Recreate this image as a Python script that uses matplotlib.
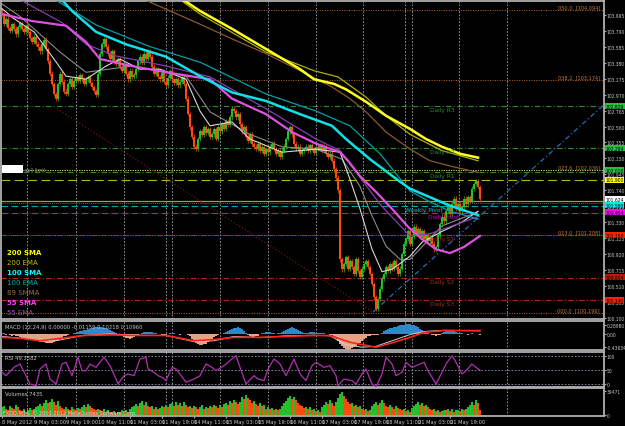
import matplotlib
matplotlib.use("Agg")
import matplotlib.pyplot as plt
from matplotlib.patches import Rectangle
from matplotlib.transforms import blended_transform_factory

plt.rcParams["font.family"] = ["DejaVu Sans"]

# ---- H1 closes, bar 0 = 8 May 2012 ----
closes = [
    104.01, 103.88, 103.95, 103.83, 103.79, 103.88, 103.82, 103.75, 103.84, 103.89,
    103.82, 103.78, 103.85, 103.78, 103.70, 103.65, 103.72, 103.63, 103.58, 103.53,
    103.62, 103.68, 103.56, 103.40, 103.24, 103.11, 102.98, 102.92, 103.11, 103.24,
    103.14, 103.01, 102.98, 103.11, 103.17, 103.07, 103.15, 103.20, 103.15, 103.22,
    103.17, 103.11, 103.17, 103.20, 103.12, 103.07, 103.02, 102.97, 103.24, 103.50,
    103.62, 103.69, 103.59, 103.50, 103.43, 103.53, 103.40, 103.37, 103.43, 103.33,
    103.28, 103.36, 103.24, 103.17, 103.28, 103.20, 103.22, 103.30, 103.40, 103.46,
    103.38, 103.50, 103.43, 103.53, 103.46, 103.33, 103.24, 103.30, 103.20, 103.17,
    103.25, 103.14, 103.09, 103.19, 103.27, 103.17, 103.12, 103.17, 103.09, 103.14,
    103.20, 103.11, 102.92, 102.72, 102.55, 102.43, 102.30, 102.27, 102.40, 102.50,
    102.45, 102.55, 102.48, 102.53, 102.43, 102.46, 102.53, 102.40, 102.55, 102.50,
    102.59, 102.53, 102.63, 102.58, 102.68, 102.79, 102.76, 102.68, 102.72, 102.59,
    102.50, 102.55, 102.43, 102.38, 102.46, 102.34, 102.30, 102.27, 102.34, 102.25,
    102.30, 102.21, 102.27, 102.23, 102.30, 102.34, 102.27, 102.21, 102.25, 102.17,
    102.25, 102.30, 102.40, 102.50, 102.55, 102.46, 102.34, 102.27, 102.30, 102.21,
    102.25, 102.27, 102.30, 102.25, 102.32, 102.27, 102.22, 102.30, 102.27, 102.32,
    102.25, 102.30, 102.21, 102.17, 102.21, 102.12, 102.01, 101.90, 101.74, 100.85,
    100.72, 100.79, 100.88, 100.73, 100.83, 100.75, 100.66, 100.85, 100.70, 100.62,
    100.73, 100.79, 100.83, 100.75, 100.66, 100.53, 100.36, 100.21, 100.34, 100.47,
    100.60, 100.66, 100.75, 100.70, 100.79, 100.73, 100.83, 100.75, 100.66, 100.73,
    100.92, 101.05, 101.11, 101.21, 101.05, 101.14, 101.27, 101.18, 101.24, 101.14,
    101.21, 101.11, 101.16, 101.08, 101.14, 101.05, 100.98, 101.01, 101.16, 101.30,
    101.40, 101.34, 101.47, 101.52, 101.43, 101.56, 101.63, 101.50, 101.56, 101.47,
    101.52, 101.63, 101.56, 101.65, 101.60, 101.76, 101.82, 101.86, 101.78, 101.63,
]

# volume per bar, thousands
volumes = [
    12, 15, 10, 8, 14, 11, 9, 16, 13, 7, 6, 9, 5, 8, 11, 7, 10,
    12, 15, 18, 14, 20, 24, 19, 22, 26, 21, 17, 23, 15,
    11, 9, 13, 10, 8, 12, 9, 7, 11, 10, 13, 16, 12, 18, 14, 11, 9,
    7, 10, 8, 6, 9, 5, 7, 5, 4, 6, 3, 5, 4, 7, 6, 8, 5,
    9, 12, 15, 18, 14, 20, 23, 17, 21, 15, 12, 14, 10, 13, 9, 11, 15, 12,
    16, 13, 18, 20, 15, 22, 17, 19, 14, 21, 16, 12,
    14, 11, 15, 13, 10, 12, 16, 9, 13, 11, 15, 12, 17, 14, 11, 16, 13, 18,
    20, 17, 23, 19, 25, 21, 18, 22, 30, 26, 33, 28, 24,
    20, 23, 18, 15, 19, 14, 16, 10, 12, 9, 11, 8, 10, 7, 9,
    15, 19, 23, 28, 32, 27, 30, 24, 20, 17, 14, 11, 13, 9, 12, 8, 10, 6, 8, 5,
    12, 16, 21, 18, 24, 19, 15, 22, 28, 35, 39, 31,
    26, 22, 18, 20, 15, 17, 12, 14, 9, 7, 10, 6, 8,
    14, 18, 22, 17, 20, 24, 19, 15, 12, 16, 13, 10, 14, 11, 9, 7, 9, 6, 8, 5,
    11, 15, 18, 22, 17, 20, 14, 16, 12, 10, 7, 9, 6, 8, 5,
    6, 8, 7, 10, 6, 9, 5, 7, 8, 6, 10, 7, 9, 13, 17, 21, 16, 25, 19, 8,
]

# MACD colored histogram per bar
macd_hist = [
    0.02, 0.03, -0.02, 0.01, -0.03, -0.05, -0.04, -0.06, -0.08, -0.10,
    -0.12, -0.14, -0.15, -0.17, -0.18, -0.20, -0.21, -0.22, -0.24, -0.25,
    -0.26, -0.27, -0.28, -0.30, -0.29, -0.28, -0.26, -0.24, -0.20, -0.16, -0.12,
    -0.08, -0.05, -0.03, -0.01, 0.01, 0.02,
    0.04, 0.06, 0.08, 0.10, 0.12, 0.13, 0.15, 0.16, 0.18, 0.19, 0.21, 0.22, 0.23, 0.22,
    0.20, 0.18, 0.15, 0.12, 0.09, 0.06, 0.03, 0.01,
    -0.03, -0.06, -0.09, -0.12, -0.14, -0.15, -0.13, -0.10, -0.06,
    -0.02, 0.01, 0.03, 0.05, 0.06, 0.07, 0.06, 0.05, 0.04, 0.02, 0.01, -0.01,
    -0.02, -0.03, -0.02, 0.01, 0.02, 0.03, 0.02, 0.01, -0.01, -0.02, -0.01, 0.01, 0.00, -0.03,
    -0.08, -0.15, -0.22, -0.28, -0.32, -0.35, -0.36, -0.34, -0.31, -0.27, -0.22, -0.16, -0.11, -0.06,
    -0.03, -0.01, 0.01, 0.03,
    0.06, 0.09, 0.12, 0.15, 0.18, 0.20, 0.21, 0.19, 0.15, 0.10,
    0.04, -0.02, -0.06, -0.09, -0.10, -0.08, -0.05,
    0.00, 0.02, 0.04, 0.05, 0.06, 0.05, 0.03, 0.02, 0.01, 0.02, 0.04, 0.07,
    0.10, 0.14, 0.17, 0.20, 0.21, 0.20, 0.17, 0.13, 0.09, 0.06,
    0.04, 0.03, 0.04, 0.05, 0.06, 0.05, 0.04, 0.03, 0.02, 0.03, 0.02, 0.01, 0.00,
    -0.02, -0.04, -0.06, -0.12, -0.22, -0.32,
    -0.40, -0.46, -0.50, -0.52, -0.50, -0.47, -0.43, -0.38, -0.33, -0.28, -0.22, -0.17,
    -0.12, -0.08, -0.05, -0.03, -0.03, -0.04, -0.02, 0.01,
    0.04, 0.08, 0.12, 0.15, 0.18, 0.20, 0.22, 0.24, 0.26, 0.28,
    0.29, 0.30, 0.31, 0.32, 0.31, 0.30, 0.28, 0.25, 0.21, 0.17,
    0.13, 0.10, 0.07, 0.04, 0.01, -0.02, -0.04, -0.05, -0.04, -0.02,
    0.02, 0.05, 0.08, 0.10, 0.11, 0.10, 0.08, 0.06, 0.04, 0.03,
    0.02, 0.01, -0.01, -0.02, 0.01, 0.02, 0.01, 0.00, -0.01, -0.02,
]

macd_sig_x = [0, 9, 19, 27, 41, 54, 69, 82, 96, 106, 116, 129, 142, 156, 164, 174, 187, 196, 204, 211, 221, 239]
macd_sig_y = [-0.11, -0.14, -0.22, -0.16, -0.05, -0.03, -0.05, -0.05, -0.22, -0.18, -0.11,
              -0.11, -0.08, -0.05, -0.05, -0.27, -0.43, -0.27, -0.11, 0.05, 0.11, 0.11]
macd_main_x = [0, 19, 27, 41, 54, 69, 82, 96, 106, 116, 129, 142, 156, 164, 172, 180, 187, 196, 204, 211, 221, 239]
macd_main_y = [-0.08, -0.20, -0.22, -0.04, 0.00, -0.04, -0.05, -0.25, -0.22, -0.08, -0.12,
               -0.06, -0.04, -0.06, -0.35, -0.43, -0.40, -0.20, -0.02, 0.08, 0.12, 0.10]

rsi_x = [0, 2, 6, 9, 12, 14, 17, 19, 22, 24, 27, 30, 32, 35, 38, 40, 42, 44, 47, 51, 54, 57, 58,
         61, 63, 66, 69, 72, 73, 76, 78, 80, 82, 85, 87, 89, 92, 96, 99, 102, 105, 107, 111, 114,
         117, 119, 122, 126, 128, 131, 133, 136, 139, 142, 146, 149, 152, 155, 157, 161, 164, 167,
         168, 171, 175, 177, 180, 182, 185, 187, 190, 192, 195, 197, 200, 202, 205, 207, 211, 213,
         216, 217, 220, 222, 225, 227, 230, 232, 235, 237, 239]
rsi_y = [46.7, 41.9, 53.8, 58.6, 41.9, 30.0, 27.6, 51.4, 58.6, 37.1, 30.0, 58.6, 61.0, 41.9, 68.1,
         49.0, 49.0, 58.6, 53.8, 68.1, 56.2, 37.1, 30.0, 41.9, 44.3, 41.9, 65.7, 68.1, 51.4, 46.7,
         41.9, 39.5, 34.8, 53.8, 51.4, 44.3, 32.4, 37.1, 41.9, 58.6, 53.8, 49.0, 56.2, 63.4, 70.4,
         53.8, 30.0, 41.9, 37.1, 34.8, 51.4, 65.7, 58.6, 41.9, 65.7, 44.3, 34.8, 56.2, 61.0, 53.8,
         56.2, 41.9, 27.6, 37.1, 34.8, 30.0, 44.3, 51.4, 30.0, 26.0, 44.3, 68.1, 58.6, 41.9, 46.7,
         61.0, 53.8, 56.2, 61.0, 49.0, 34.8, 30.0, 46.7, 58.6, 70.4, 61.0, 44.3, 49.0, 58.6, 53.8, 49.4]

# moving averages (bar, price)
sma200_x = [80, 92, 99, 115, 132, 149, 156, 166, 172, 182, 192, 204, 212, 220, 229, 238]
sma200_y = [104.30, 104.17, 104.05, 103.82, 103.56, 103.30, 103.17, 103.11, 103.04, 102.88,
            102.70, 102.53, 102.40, 102.30, 102.21, 102.16]
ema200_x = [85, 99, 132, 149, 156, 168, 182, 192, 204, 220, 238]
ema200_y = [104.27, 104.01, 103.52, 103.35, 103.28, 103.20, 102.94, 102.70, 102.46, 102.25, 102.12]
smma89_x = [69, 99, 115, 132, 149, 165, 174, 182, 192, 204, 214, 226, 238]
smma89_y = [104.22, 103.88, 103.69, 103.50, 103.28, 103.07, 102.92, 102.75, 102.49, 102.27,
            102.12, 102.04, 101.97]
sma100_x = [29, 35, 47, 62, 82, 99, 115, 132, 149, 165, 172, 184, 199, 204, 214, 224, 238]
sma100_y = [104.22, 104.05, 103.78, 103.62, 103.46, 103.21, 103.00, 102.89, 102.72, 102.57,
            102.40, 102.14, 101.85, 101.76, 101.65, 101.54, 101.42]
ema100_x = [25, 47, 74, 99, 132, 157, 174, 189, 204, 214, 224, 238]
ema100_y = [104.22, 103.87, 103.59, 103.39, 102.98, 102.76, 102.57, 102.21, 101.73, 101.59,
            101.47, 101.37]
sma55_x = [0, 15, 32, 42, 49, 65, 82, 104, 115, 132, 145, 157, 169, 173, 179, 187, 195, 203,
           210, 217, 224, 231, 239]
sma55_y = [104.01, 103.92, 103.86, 103.65, 103.43, 103.34, 103.26, 103.17, 102.92, 102.72,
           102.49, 102.34, 102.23, 102.12, 101.92, 101.72, 101.50, 101.27, 101.11, 100.98,
           100.93, 101.01, 101.15]
ema55_x = [10, 30, 42, 57, 82, 104, 132, 157, 169, 179, 189, 204, 214, 224, 238]
ema55_y = [104.18, 103.90, 103.62, 103.47, 103.34, 103.20, 102.79, 102.40, 102.25, 101.91,
           101.56, 101.15, 101.18, 101.27, 101.40]
fast_x = [0, 6, 16, 26, 32, 42, 52, 59, 69, 79, 92, 99, 104, 115, 124, 140, 157, 169, 174,
          179, 185, 190, 195, 204, 210, 220, 230, 238]
fast_y = [104.08, 103.95, 103.78, 103.43, 103.21, 103.17, 103.34, 103.43, 103.30, 103.30,
          103.17, 102.76, 102.57, 102.62, 102.40, 102.23, 102.27, 102.23, 101.88, 101.50,
          100.98, 100.69, 100.72, 100.89, 101.07, 101.21, 101.33, 101.47]
slow_x = [0, 9, 29, 42, 65, 92, 104, 124, 140, 157, 170, 179, 185, 192, 199, 204, 220, 238]
slow_y = [104.14, 103.98, 103.52, 103.26, 103.34, 103.21, 102.75, 102.46, 102.30, 102.27,
          102.14, 101.79, 101.41, 101.02, 100.85, 100.85, 101.28, 101.46]

# trend lines (bar, price)
fib_trend_x = [27.5, 185.5]
fib_trend_y = [102.79, 100.17]
channel_x = [185.5, 300.5]
channel_y = [100.17, 102.83]

# horizontal levels
fib_levels = [104.066, 103.160, 102.000, 101.163, 100.158]
fib_labels = ["050.0  [104.094]", "038.2  [103.174]", "023.6  [102.036]",
              "013.0  [101.208]", "000.0  [100.196]"]
pivot_levels = [102.825, 102.284, 101.975, 101.446, 101.163, 100.609, 100.325]
pivot_names = ["Daily R3", "Daily R2", "Daily R1", "Daily Pivot", "Daily S1", "Daily S2", "Daily S3"]
weekly_pivot = 101.537
yellow_level = 101.872
tan_level = 101.601
order_level = 101.575
price_boxes = [102.825, 102.284, 101.999, 101.872, 101.627, 101.549, 101.459, 101.163, 100.622, 100.325]
price_box_text = ["102.829", "102.284", "102.010", "101.900", "101.624", "101.580",
                  "101.454", "101.150", "100.614", "100.340"]

date_labels = ["8 May 2012", "9 May 03:00", "9 May 19:00", "10 May 11:00", "11 May 03:00",
               "11 May 19:00", "14 May 11:00", "15 May 03:00", "15 May 19:00", "16 May 11:00",
               "17 May 03:00", "17 May 19:00", "18 May 11:00", "21 May 03:00", "21 May 19:00"]

BG = "black"
FRAME = "#b0b0b0"
TXT = "#c8c8c8"
GRID = "#a8a8a8"
BULL = "#22c02a"
BEAR = "#ff4a10"
W, H = 625, 427
SMALL = 3.7
AXIS = 3.25

fig = plt.figure(figsize=(6.25, 4.27), dpi=100, facecolor=BG)


def px_axes(x0, y0, x1, y1):
    a = fig.add_axes([x0 / W, 1 - y1 / H, (x1 - x0) / W, (y1 - y0) / H], facecolor=BG)
    for s in a.spines.values():
        s.set_color(FRAME)
        s.set_linewidth(1.3)
    a.set_xlim(-0.5, 301)
    a.yaxis.tick_right()
    a.tick_params(axis="y", colors=FRAME, labelcolor=TXT, labelsize=AXIS, length=1.2, pad=0.5)
    a.tick_params(axis="x", bottom=False, labelbottom=False)
    for g in [12.5, 37, 61, 82, 85, 109, 133, 157, 180.5, 201.5, 205, 228.5, 252.5]:
        a.axvline(g, color=GRID, lw=0.6, ls=(0, (2, 2)), zorder=0.5)
    return a


ax = px_axes(1, 2, 604, 320)
ax_macd = px_axes(1, 322, 604, 351)
ax_rsi = px_axes(1, 353, 604, 388)
ax_vol = px_axes(1, 389, 604, 417)

# ---- main price panel ----
ax.set_ylim(100.081, 104.178)
ticks = [100.100 + 0.205 * k for k in range(20)]
ax.set_yticks(ticks)
ax.set_yticklabels(["%.3f" % t for t in ticks])

xs = list(range(len(closes)))
opens = [closes[0] + 0.04] + closes[:-1]
lows = [min(o, c) for o, c in zip(opens, closes)]
highs = [max(o, c) for o, c in zip(opens, closes)]
cols = [BULL if c >= o else BEAR for o, c in zip(opens, closes)]
ax.vlines(xs, [l - 0.03 for l in lows], [h + 0.03 for h in highs], colors=cols, lw=0.5, zorder=3)
ax.bar(xs, [max(h - l, 0.008) for h, l in zip(highs, lows)], bottom=lows, width=0.6,
       color=cols, zorder=3)

# levels
for lv in fib_levels:
    ax.axhline(lv, color="#b8662c", lw=0.7, ls=(0, (1, 1.5)), zorder=1)
ax.axhline(102.000, color="#c0e090", lw=0.7, ls=(0, (1, 1.5)), zorder=1)
for lv, nm in zip(pivot_levels, pivot_names):
    if "R" in nm:
        c = "#2e8b2e"
    elif "Pivot" in nm:
        c = "#d000d0"
    else:
        c = "#b02a10"
    ls = (0, (6, 3)) if "Pivot" in nm else (0, (5, 2, 1, 2))
    ax.axhline(lv, color=c, lw=0.8, ls=ls, zorder=1)
    xt = 213 if "Pivot" in nm else 214
    ax.annotate(nm, (xt, lv), xytext=(0, -1), textcoords="offset points", color=c,
                fontsize=4.2, va="top", ha="left", zorder=6)
ax.axhline(weekly_pivot, color="#00a8a8", lw=0.8, ls=(0, (6, 3)), zorder=1)
ax.annotate("Weekly Pivot", (201.5, weekly_pivot), xytext=(0, -1), textcoords="offset points",
            color="#00c8c8", fontsize=4.2, va="top", ha="left", zorder=6)
ax.axhline(yellow_level, color="#b8b800", lw=0.8, ls=(0, (8, 4)), zorder=1)
ax.axhline(tan_level, color="#c88a48", lw=0.9, zorder=1)
ax.axhline(order_level, color="#5a5a80", lw=0.7, ls=(0, (1, 1)), zorder=1)
for lv, lb in zip(fib_levels, fib_labels):
    ax.annotate(lb, (299, lv), xytext=(0, 0.5), textcoords="offset points", color="#c87a3a",
                fontsize=3.6, va="bottom", ha="right", zorder=6)

ax.plot(fib_trend_x, fib_trend_y, color="#8a1a10", lw=0.8, ls=(0, (1, 2)), zorder=2)
ax.plot(channel_x, channel_y, color="#2a6ab8", lw=0.9, ls=(0, (4, 2, 1, 2)), zorder=2)

# moving averages
ax.plot(slow_x, slow_y, color="#8a8a8a", lw=0.8, zorder=4)
ax.plot(fast_x, fast_y, color="#d8d8d8", lw=0.8, zorder=4)
ax.plot(ema55_x, ema55_y, color="#8040b0", lw=0.9, zorder=4)
ax.plot(sma55_x, sma55_y, color="#e050e0", lw=1.6, zorder=4)
ax.plot(ema100_x, ema100_y, color="#00a0a8", lw=0.9, zorder=4)
ax.plot(sma100_x, sma100_y, color="#10e0e8", lw=1.8, zorder=4)
ax.plot(smma89_x, smma89_y, color="#8a5a30", lw=0.9, zorder=4)
ax.plot(ema200_x, ema200_y, color="#b0b000", lw=0.9, zorder=4)
ax.plot(sma200_x, sma200_y, color="#ffff20", lw=1.8, zorder=4)

# legend texts
legend = [("200 SMA", "#ffff00", "bold"), ("200 EMA", "#c0c000", "normal"),
          ("100 SMA", "#00ffff", "bold"), ("100 EMA", "#00b0b0", "normal"),
          ("89 SMMA", "#a07030", "normal"), ("55 SMA", "#ff40ff", "bold"),
          ("55 EMA", "#9050b0", "normal")]
for k, (t, c, w) in enumerate(legend):
    ax.text(0.010, (320 - 253 - 10 * k) / 318, t, transform=ax.transAxes, color=c,
            fontweight=w, fontsize=5.0, va="center", ha="left", zorder=6)

ax.add_patch(Rectangle((0.002, (320 - 174) / 318), 0.034, 8 / 318, transform=ax.transAxes,
                       facecolor="white", edgecolor="none", zorder=6))
ax.text(0.040, (320 - 171) / 318, "sell limit", transform=ax.transAxes, color="#909090",
        fontsize=3.4, va="center", ha="left", zorder=6)

tr = blended_transform_factory(ax.transAxes, ax.transData)
box_cols = ["#20c040", "#20c040", "#20c040", "#ffff00", "#ffffff", "#00e8e8", "#ff00ff",
            "#ff2000", "#c01800", "#ff2000"]
for p, t, c in zip(price_boxes, price_box_text, box_cols):
    ax.text(1.003, p, t, transform=tr, fontsize=AXIS, color="black", va="center", ha="left",
            bbox=dict(boxstyle="square,pad=0.08", fc=c, ec="none"), clip_on=False, zorder=7)

# ---- MACD ----
ax_macd.set_ylim(-0.52, 0.42)
ax_macd.set_yticks([0.2898, 0.0, -0.43634])
ax_macd.set_yticklabels(["0.28980", "0.00", "-0.43634"])
hx = list(range(len(macd_hist)))
ax_macd.bar(hx, macd_hist, width=0.75,
            color=["#2f88c8" if v >= 0 else "#e8a282" for v in macd_hist], zorder=2)
ax_macd.plot(macd_main_x, macd_main_y, color="#d0d0d0", lw=0.7, zorder=3)
ax_macd.plot(macd_sig_x, macd_sig_y, color="#ff2418", lw=1.2, zorder=3)
ax_macd.text(0.006, 0.82, "MACD (12,24,9) 0.00000 -0.01159 0.10218 0.10960",
             transform=ax_macd.transAxes, color=TXT, fontsize=3.8, va="center")

# ---- RSI ----
ax_rsi.set_ylim(25.7, 75.7)
ax_rsi.set_yticks([70, 50, 30])
ax_rsi.set_yticklabels(["100", "50", "0"])
for lv in [70, 50, 30]:
    ax_rsi.axhline(lv, color="#9090b0", lw=0.6, ls=(0, (2, 2)), zorder=1)
ax_rsi.plot(rsi_x, rsi_y, color="#b030b0", lw=0.9, zorder=3)
ax_rsi.text(0.006, 0.85, "RSI 49.3582", transform=ax_rsi.transAxes, color=TXT,
            fontsize=3.8, va="center")

# ---- Volumes ----
ax_vol.set_ylim(-2.5, 45)
ax_vol.set_yticks([39.471, 0])
ax_vol.set_yticklabels(["39471", "0"])
vcols = [BULL] + [BULL if v > pv else BEAR for pv, v in zip(volumes[:-1], volumes[1:])]
ax_vol.bar(range(len(volumes)), volumes, width=0.8, color=vcols, zorder=2)
ax_vol.text(0.006, 0.82, "Volumes 7435", transform=ax_vol.transAxes, color=TXT,
            fontsize=3.8, va="center")
ax_vol.text(0.003, 0.12, "FXDD-MT4, \u00a9 2001-2012 MetaQuotes Software Corp.",
            transform=ax_vol.transAxes, color="#d8d8d8", fontsize=3.6, va="center", zorder=5)

ax_vol.tick_params(axis="x", bottom=True, labelbottom=True, colors=FRAME, labelcolor=TXT,
                   labelsize=SMALL, length=1.5, pad=0.8)
ax_vol.set_xticks([16 * k for k in range(len(date_labels))])
ax_vol.set_xticklabels(date_labels, ha="left")

fig.savefig("out.png", dpi=100, facecolor=BG)
